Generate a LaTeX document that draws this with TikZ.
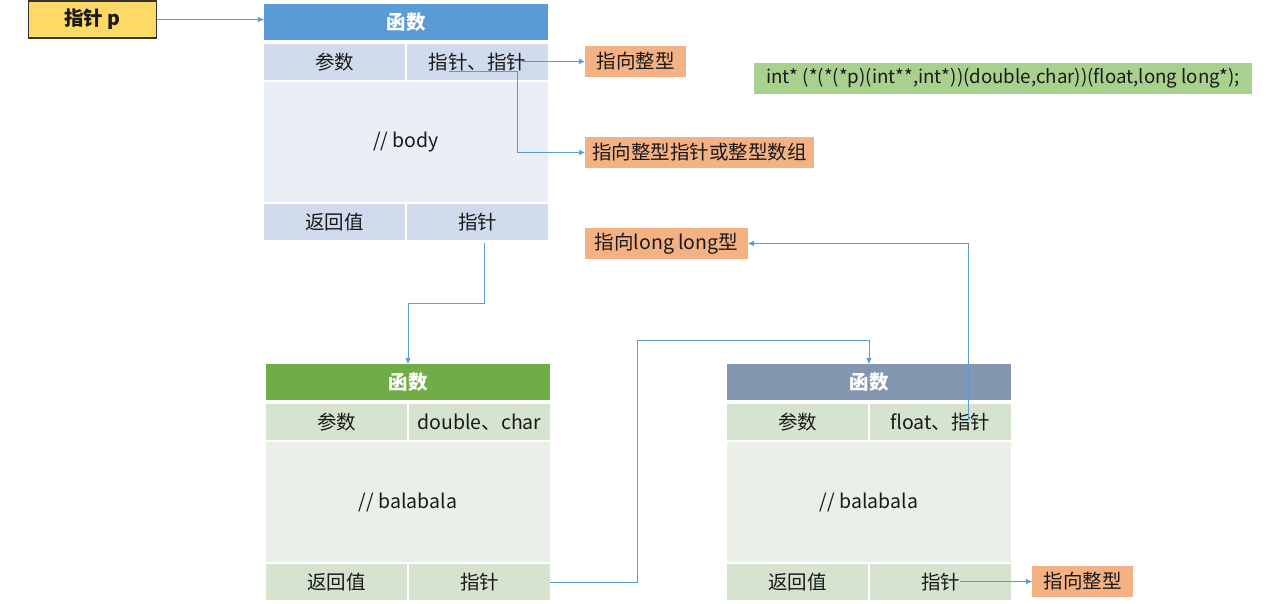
\documentclass[tikz,border=0pt]{standalone}
\usepackage{fontspec}
\setmainfont{Noto Sans CJK SC}
\usetikzlibrary{arrows.meta,calc}
\definecolor{hdrblue}{HTML}{5B9BD5}
\definecolor{rowblue}{HTML}{D0DBEE}
\definecolor{bodyblue}{HTML}{E9EEF7}
\definecolor{hdrgreen}{HTML}{70AD47}
\definecolor{rowgreen}{HTML}{D5E3CF}
\definecolor{bodygreen}{HTML}{EAF0E7}
\definecolor{hdrgray}{HTML}{8497B0}
\definecolor{orangebox}{HTML}{F4B183}
\definecolor{codegreen}{HTML}{A9D18E}
\definecolor{ptryellow}{HTML}{FFD966}
\definecolor{linkblue}{HTML}{5B9BD5}
\definecolor{txt}{HTML}{1A1A1A}
\begin{document}
\begin{tikzpicture}[x=1pt,y=-1pt,
  base/.style={inner sep=0pt, text=txt, font=\fontsize{19.5}{22}\selectfont},
  hdr/.style={base, minimum width=284pt, minimum height=36pt, text=white, font=\fontsize{19.5}{22}\selectfont\bfseries},
  cell/.style={base, minimum width=141pt, minimum height=36pt},
  bodycell/.style={base, minimum width=284pt, minimum height=120pt},
  tag/.style={base, fill=orangebox, minimum height=31pt},
  link/.style={draw=linkblue, line width=0.9pt, -{Triangle[length=6pt,width=5pt]}}
]
\useasboundingbox (0,0) rectangle (1280,604);
\fill[white] (0,0) rectangle (1280,604);

% pointer
\node[base, fill=ptryellow, draw=black!80, line width=1.2pt, minimum width=128pt, minimum height=37pt, font=\fontsize{19.5}{22}\selectfont\bfseries] (ptr) at (92.5,19.5) {指针 p};

% table 1
\node[hdr, fill=hdrblue] (t1h) at (406,22) {函数};
\node[cell, fill=rowblue] (t1a) at (334.5,62) {参数};
\node[cell, fill=rowblue] (t1b) at (477.5,62) {指针、指针};
\node[bodycell, fill=bodyblue] (t1m) at (406,142) {// body};
\node[cell, fill=rowblue] (t1c) at (334.5,222) {返回值};
\node[cell, fill=rowblue] (t1d) at (477.5,222) {指针};

% table 2
\node[hdr, fill=hdrgreen] (t2h) at (408,382) {函数};
\node[cell, fill=rowgreen] (t2a) at (336.5,422) {参数};
\node[cell, fill=rowgreen] (t2b) at (479.5,422) {double、char};
\node[bodycell, fill=bodygreen] (t2m) at (408,502) {// balabala};
\node[cell, fill=rowgreen] (t2c) at (336.5,582) {返回值};
\node[cell, fill=rowgreen] (t2d) at (479.5,582) {指针};

% table 3
\node[hdr, fill=hdrgray] (t3h) at (869,382) {函数};
\node[cell, fill=rowgreen] (t3a) at (797.5,422) {参数};
\node[cell, fill=rowgreen] (t3b) at (940.5,422) {float、指针};
\node[bodycell, fill=bodygreen] (t3m) at (869,502) {// balabala};
\node[cell, fill=rowgreen] (t3c) at (797.5,582) {返回值};
\node[cell, fill=rowgreen] (t3d) at (940.5,582) {指针};

% tags
\node[tag, minimum width=101pt] (o1) at (635.5,61.5) {指向整型};
\node[tag, minimum width=229pt] (o2) at (699.5,152.5) {指向整型指针或整型数组};
\node[tag, minimum width=163pt] (o3) at (666.5,243.5) {指向long long型};
\node[tag, minimum width=101pt] (o4) at (1082.5,581.5) {指向整型};

% code
\node[base, fill=codegreen, minimum width=498pt, minimum height=31pt, font=\fontsize{18.7}{22}\selectfont] (code) at (1003,78.5) {int* (*(*(*p)(int**,int*))(double,char))(float,long long*);};

% connector start points
\coordinate (s2) at (522,61.5);
\coordinate (s3) at (449,71);
\coordinate (s4) at (484,243);
\coordinate (s6) at (968,420);
\coordinate (s7) at (960,581.5);

\draw[link] (ptr.east) -- (ptr.east -| t1h.west);
\draw[link] (s2) -- (o1.west);
\draw[link] (s3) -- ++(68,0) |- (o2.west);
\draw[link] (s4) -- ++(0,60) -| (t2h.north);
\draw[link] (t2d.east) -- ++(87,0) |- ($(t3h.north)+(0,-23)$) -- (t3h.north);
\draw[link] (s6) |- (o3.east);
\draw[link] (s7) -- (o4.west);
\end{tikzpicture}
\end{document}
